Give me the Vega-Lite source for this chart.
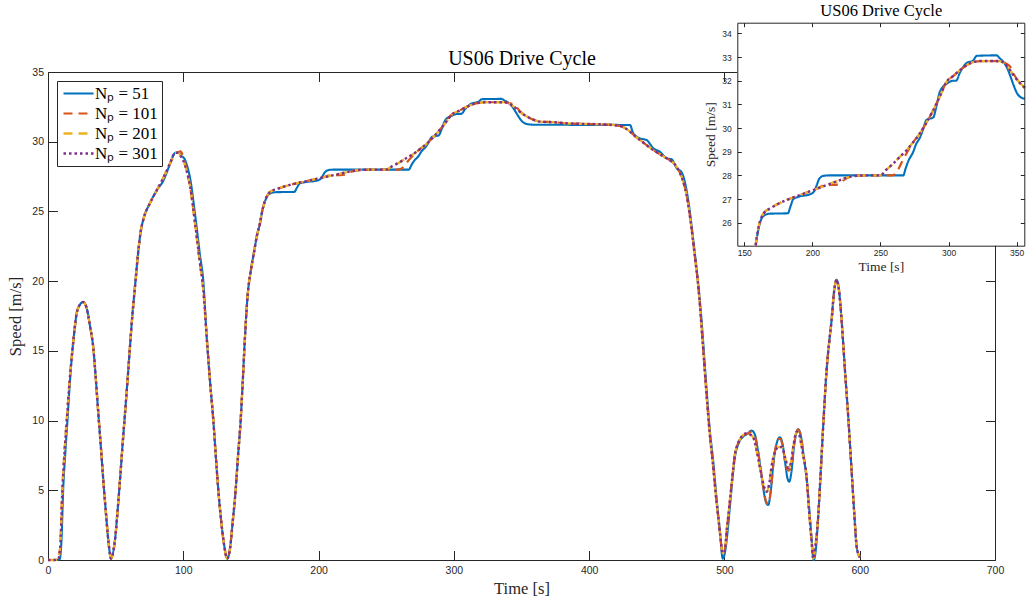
{
"$schema":"https://vega.github.io/schema/vega-lite/v6.json",
"width":947,"height":488,
"autosize":{"type":"none"},
"padding":{"left":48,"top":72,"right":33,"bottom":42},
"background":"white",
"config":{"view":{"stroke":null},"axis":{"domainColor":"#262626","tickColor":"#262626","labelColor":"#262626","labelFont":"Liberation Sans","labelFlush":false,"labelOverlap":false,"titleFont":"Liberation Serif","titleFontWeight":"normal","titleColor":"#262626","grid":false,"domainWidth":1,"tickWidth":1}},
"data":{"values":[
{"np":51,"t":0,"v":0},{"np":51,"t":5,"v":0},{"np":51,"t":8.6,"v":0.05},{"np":51,"t":10,"v":1.5},{"np":51,"t":11.2,"v":5},{"np":51,"t":12.8,"v":7.7},{"np":51,"t":14.5,"v":10.2},{"np":51,"t":16,"v":12.5},{"np":51,"t":18,"v":15},{"np":51,"t":19.6,"v":16.5},{"np":51,"t":21.2,"v":17.7},{"np":51,"t":23.5,"v":18.3},{"np":51,"t":26,"v":18.5},{"np":51,"t":28.5,"v":18.1},{"np":51,"t":31,"v":16.8},{"np":51,"t":33.5,"v":15.2},{"np":51,"t":35.5,"v":12.8},{"np":51,"t":37.2,"v":10.5},{"np":51,"t":39,"v":8.2},{"np":51,"t":40.9,"v":5.7},{"np":51,"t":42.8,"v":3.4},{"np":51,"t":44.6,"v":1.4},{"np":51,"t":46.6,"v":0.1},{"np":51,"t":48,"v":0.5},{"np":51,"t":49.5,"v":1.4},{"np":51,"t":51.4,"v":3.5},{"np":51,"t":53.2,"v":5.7},{"np":51,"t":55,"v":8.1},{"np":51,"t":56.9,"v":10.5},{"np":51,"t":58.8,"v":12.9},{"np":51,"t":60.6,"v":15.3},{"np":51,"t":62.4,"v":17.6},{"np":51,"t":64.3,"v":19.6},{"np":51,"t":66.8,"v":22.2},{"np":51,"t":68.6,"v":23.6},{"np":51,"t":70.4,"v":24.4},{"np":51,"t":75.4,"v":25.6},{"np":51,"t":80.3,"v":26.5},{"np":51,"t":85.2,"v":27.2},{"np":51,"t":90.2,"v":28.4},{"np":51,"t":93.9,"v":29.2},{"np":51,"t":96.3,"v":29.25},{"np":51,"t":98.5,"v":29.0},{"np":51,"t":101.3,"v":28.7},{"np":51,"t":103.3,"v":28.1},{"np":51,"t":105,"v":27.4},{"np":51,"t":108.7,"v":24.8},{"np":51,"t":112.3,"v":21.9},{"np":51,"t":114.8,"v":20.0},{"np":51,"t":117.3,"v":16},{"np":51,"t":119.7,"v":12.9},{"np":51,"t":122.2,"v":10},{"np":51,"t":124,"v":7.5},{"np":51,"t":125.9,"v":5},{"np":51,"t":128,"v":2.8},{"np":51,"t":130,"v":1.2},{"np":51,"t":132.5,"v":0.1},{"np":51,"t":134.5,"v":0.8},{"np":51,"t":136.6,"v":2.8},{"np":51,"t":138.7,"v":5},{"np":51,"t":140.5,"v":7.5},{"np":51,"t":142.4,"v":10},{"np":51,"t":143.9,"v":12.7},{"np":51,"t":145.5,"v":15.8},{"np":51,"t":147.5,"v":18.9},{"np":51,"t":150,"v":20.8},{"np":51,"t":152.5,"v":22.2},{"np":51,"t":154.5,"v":23.3},{"np":51,"t":156.7,"v":24.15},{"np":51,"t":158.4,"v":25.05},{"np":51,"t":160.5,"v":25.75},{"np":51,"t":162.5,"v":26.15},{"np":51,"t":165,"v":26.32},{"np":51,"t":168,"v":26.38},{"np":51,"t":182,"v":26.4},{"np":51,"t":184,"v":26.7},{"np":51,"t":186,"v":27.0},{"np":51,"t":190,"v":27.1},{"np":51,"t":198.2,"v":27.2},{"np":51,"t":201,"v":27.3},{"np":51,"t":203,"v":27.55},{"np":51,"t":205,"v":27.85},{"np":51,"t":208,"v":27.98},{"np":51,"t":212,"v":28.0},{"np":51,"t":266.8,"v":28.0},{"np":51,"t":268.5,"v":28.3},{"np":51,"t":270.4,"v":28.6},{"np":51,"t":274.1,"v":29.0},{"np":51,"t":276,"v":29.3},{"np":51,"t":279,"v":29.6},{"np":51,"t":281,"v":29.9},{"np":51,"t":283.9,"v":30.35},{"np":51,"t":288.8,"v":30.45},{"np":51,"t":291,"v":30.9},{"np":51,"t":293.7,"v":31.55},{"np":51,"t":298.6,"v":31.87},{"np":51,"t":303.5,"v":32.0},{"np":51,"t":305.5,"v":32.0},{"np":51,"t":308.4,"v":32.35},{"np":51,"t":313.3,"v":32.75},{"np":51,"t":318,"v":32.85},{"np":51,"t":320.7,"v":33.05},{"np":51,"t":335.3,"v":33.07},{"np":51,"t":337.5,"v":32.95},{"np":51,"t":340.2,"v":32.8},{"np":51,"t":342.5,"v":32.6},{"np":51,"t":345,"v":32.25},{"np":51,"t":347.5,"v":31.85},{"np":51,"t":350,"v":31.5},{"np":51,"t":353,"v":31.3},{"np":51,"t":356,"v":31.24},{"np":51,"t":358.7,"v":31.22},{"np":51,"t":430.2,"v":31.2},{"np":51,"t":432.6,"v":30.6},{"np":51,"t":437.6,"v":30.24},{"np":51,"t":442.5,"v":30.12},{"np":51,"t":447.4,"v":29.53},{"np":51,"t":452.3,"v":29.28},{"np":51,"t":457.3,"v":28.81},{"np":51,"t":461,"v":28.74},{"np":51,"t":464.7,"v":28.1},{"np":51,"t":468.4,"v":27.8},{"np":51,"t":471,"v":27.0},{"np":51,"t":474,"v":25.3},{"np":51,"t":477,"v":22.9},{"np":51,"t":480,"v":20.4},{"np":51,"t":483,"v":17.3},{"np":51,"t":486,"v":13.3},{"np":51,"t":489.2,"v":9.3},{"np":51,"t":491.7,"v":7.1},{"np":51,"t":494,"v":4.6},{"np":51,"t":496.5,"v":2.2},{"np":51,"t":498.8,"v":0.1},{"np":51,"t":500.5,"v":0.6},{"np":51,"t":502.5,"v":2.2},{"np":51,"t":504.1,"v":3.9},{"np":51,"t":506,"v":5.9},{"np":51,"t":507.8,"v":7.4},{"np":51,"t":510.2,"v":8.3},{"np":51,"t":513.9,"v":8.85},{"np":51,"t":517,"v":9.05},{"np":51,"t":520.1,"v":9.28},{"np":51,"t":522.5,"v":9.0},{"np":51,"t":524.5,"v":8.0},{"np":51,"t":526.2,"v":6.9},{"np":51,"t":528.5,"v":5.3},{"np":51,"t":530.5,"v":4.2},{"np":51,"t":532.4,"v":3.94},{"np":51,"t":534.2,"v":4.9},{"np":51,"t":536.5,"v":7.2},{"np":51,"t":539,"v":8.5},{"np":51,"t":541,"v":8.8},{"np":51,"t":543,"v":8.3},{"np":51,"t":545,"v":6.9},{"np":51,"t":546.5,"v":5.9},{"np":51,"t":547.9,"v":5.62},{"np":51,"t":549.5,"v":6.3},{"np":51,"t":551.5,"v":8.2},{"np":51,"t":554.6,"v":9.37},{"np":51,"t":556.5,"v":8.9},{"np":51,"t":558.5,"v":7.5},{"np":51,"t":561,"v":5.6},{"np":51,"t":563,"v":3.3},{"np":51,"t":564.7,"v":1.2},{"np":51,"t":566,"v":0.0},{"np":51,"t":567.8,"v":1.0},{"np":51,"t":569.3,"v":3.1},{"np":51,"t":571,"v":6.0},{"np":51,"t":573,"v":9.6},{"np":51,"t":575.5,"v":13.6},{"np":51,"t":577.4,"v":15.6},{"np":51,"t":579.2,"v":17.2},{"np":51,"t":581,"v":19.2},{"np":51,"t":582.9,"v":20.1},{"np":51,"t":584.5,"v":19.5},{"np":51,"t":586.6,"v":17.2},{"np":51,"t":589.1,"v":13.6},{"np":51,"t":591.5,"v":10.3},{"np":51,"t":594,"v":6.4},{"np":51,"t":596,"v":3.3},{"np":51,"t":597.7,"v":1.0},{"np":51,"t":600,"v":0.2},
{"np":101,"t":0,"v":0},{"np":101,"t":5,"v":0},{"np":101,"t":7.5,"v":0.05},{"np":101,"t":9,"v":0.9},{"np":101,"t":10.6,"v":5},{"np":101,"t":12.2,"v":7.7},{"np":101,"t":14,"v":10.2},{"np":101,"t":16,"v":12.9},{"np":101,"t":18,"v":15},{"np":101,"t":19.6,"v":16.5},{"np":101,"t":21.2,"v":17.7},{"np":101,"t":23.5,"v":18.3},{"np":101,"t":26,"v":18.5},{"np":101,"t":28.5,"v":18.1},{"np":101,"t":31,"v":16.8},{"np":101,"t":33.5,"v":15.2},{"np":101,"t":35.5,"v":12.8},{"np":101,"t":37.2,"v":10.5},{"np":101,"t":39,"v":8.2},{"np":101,"t":40.9,"v":5.7},{"np":101,"t":42.8,"v":3.4},{"np":101,"t":44.6,"v":1.4},{"np":101,"t":46.6,"v":0.1},{"np":101,"t":48,"v":0.5},{"np":101,"t":49.5,"v":1.4},{"np":101,"t":51.4,"v":3.5},{"np":101,"t":53.2,"v":5.7},{"np":101,"t":55,"v":8.1},{"np":101,"t":56.9,"v":10.5},{"np":101,"t":58.8,"v":12.9},{"np":101,"t":60.6,"v":15.3},{"np":101,"t":62.4,"v":17.6},{"np":101,"t":64.3,"v":19.6},{"np":101,"t":66.8,"v":22.2},{"np":101,"t":68.6,"v":23.6},{"np":101,"t":70.4,"v":24.4},{"np":101,"t":75.4,"v":25.6},{"np":101,"t":80.3,"v":26.5},{"np":101,"t":85.2,"v":27.4},{"np":101,"t":90.2,"v":28.45},{"np":101,"t":93.9,"v":29.1},{"np":101,"t":96.3,"v":29.25},{"np":101,"t":98,"v":29.3},{"np":101,"t":100,"v":28.9},{"np":101,"t":101.3,"v":28.5},{"np":101,"t":103.3,"v":27.6},{"np":101,"t":105,"v":26.8},{"np":101,"t":108.7,"v":24.15},{"np":101,"t":112.3,"v":21.3},{"np":101,"t":114.8,"v":19.4},{"np":101,"t":117.3,"v":16},{"np":101,"t":119.7,"v":12.9},{"np":101,"t":122.2,"v":10},{"np":101,"t":124,"v":7.5},{"np":101,"t":125.9,"v":5},{"np":101,"t":128,"v":2.8},{"np":101,"t":130,"v":1.2},{"np":101,"t":132.5,"v":0.1},{"np":101,"t":134.5,"v":0.8},{"np":101,"t":136.6,"v":2.8},{"np":101,"t":138.7,"v":5},{"np":101,"t":140.5,"v":7.5},{"np":101,"t":142.4,"v":10},{"np":101,"t":143.9,"v":12.7},{"np":101,"t":145.5,"v":15.8},{"np":101,"t":147.5,"v":18.9},{"np":101,"t":150,"v":20.8},{"np":101,"t":152.5,"v":22.2},{"np":101,"t":154.5,"v":23.3},{"np":101,"t":156.7,"v":24.15},{"np":101,"t":158.4,"v":25.05},{"np":101,"t":160.5,"v":25.8},{"np":101,"t":162.8,"v":26.25},{"np":101,"t":165,"v":26.45},{"np":101,"t":168.9,"v":26.6},{"np":101,"t":175,"v":26.8},{"np":101,"t":181.1,"v":26.96},{"np":101,"t":190.9,"v":27.17},{"np":101,"t":200.7,"v":27.38},{"np":101,"t":210.5,"v":27.6},{"np":101,"t":216,"v":27.6},{"np":101,"t":220.3,"v":27.65},{"np":101,"t":223,"v":27.8},{"np":101,"t":230.1,"v":27.97},{"np":101,"t":240,"v":28.0},{"np":101,"t":249.7,"v":28.0},{"np":101,"t":258,"v":28.0},{"np":101,"t":261,"v":28.05},{"np":101,"t":263.5,"v":28.3},{"np":101,"t":266,"v":28.6},{"np":101,"t":269.3,"v":28.95},{"np":101,"t":274,"v":29.4},{"np":101,"t":279,"v":29.78},{"np":101,"t":284,"v":30.25},{"np":101,"t":288.8,"v":30.76},{"np":101,"t":293.7,"v":31.35},{"np":101,"t":298.6,"v":31.96},{"np":101,"t":303.5,"v":32.2},{"np":101,"t":308.4,"v":32.45},{"np":101,"t":315.7,"v":32.73},{"np":101,"t":323.1,"v":32.83},{"np":101,"t":337.8,"v":32.83},{"np":101,"t":341.5,"v":32.75},{"np":101,"t":345.1,"v":32.6},{"np":101,"t":348.7,"v":32.2},{"np":101,"t":352.4,"v":31.9},{"np":101,"t":356,"v":31.7},{"np":101,"t":359.5,"v":31.55},{"np":101,"t":363.6,"v":31.44},{"np":101,"t":373.5,"v":31.4},{"np":101,"t":383.3,"v":31.32},{"np":101,"t":395,"v":31.28},{"np":101,"t":408,"v":31.25},{"np":101,"t":422.8,"v":31.13},{"np":101,"t":426.5,"v":30.98},{"np":101,"t":430.2,"v":30.72},{"np":101,"t":433.9,"v":30.4},{"np":101,"t":437.6,"v":30.12},{"np":101,"t":442.5,"v":29.75},{"np":101,"t":447.4,"v":29.4},{"np":101,"t":452.3,"v":29.1},{"np":101,"t":457.3,"v":28.81},{"np":101,"t":460,"v":28.65},{"np":101,"t":464.7,"v":28.2},{"np":101,"t":469,"v":27.3},{"np":101,"t":472,"v":26.2},{"np":101,"t":475,"v":24.3},{"np":101,"t":478,"v":21.9},{"np":101,"t":481,"v":19.3},{"np":101,"t":484,"v":15.5},{"np":101,"t":487,"v":11.6},{"np":101,"t":489.2,"v":9.0},{"np":101,"t":491.7,"v":6.7},{"np":101,"t":493.5,"v":4.8},{"np":101,"t":495.4,"v":3.1},{"np":101,"t":497,"v":1.7},{"np":101,"t":498.6,"v":0.5},{"np":101,"t":500,"v":0.6},{"np":101,"t":502,"v":2.4},{"np":101,"t":504.1,"v":4.3},{"np":101,"t":506,"v":6.1},{"np":101,"t":507.8,"v":7.6},{"np":101,"t":510.2,"v":8.4},{"np":101,"t":513.9,"v":8.95},{"np":101,"t":517,"v":9.05},{"np":101,"t":520.1,"v":9.2},{"np":101,"t":522.5,"v":8.9},{"np":101,"t":524.5,"v":8.0},{"np":101,"t":526.2,"v":6.95},{"np":101,"t":528.5,"v":5.4},{"np":101,"t":530.5,"v":4.3},{"np":101,"t":532.4,"v":4.0},{"np":101,"t":534.2,"v":4.9},{"np":101,"t":536.5,"v":7.2},{"np":101,"t":539,"v":8.5},{"np":101,"t":541,"v":8.7},{"np":101,"t":543,"v":8.2},{"np":101,"t":545,"v":7.0},{"np":101,"t":547.5,"v":6.4},{"np":101,"t":549.5,"v":6.8},{"np":101,"t":551.5,"v":8.3},{"np":101,"t":554.4,"v":9.35},{"np":101,"t":556.5,"v":8.9},{"np":101,"t":558.5,"v":7.5},{"np":101,"t":561,"v":5.6},{"np":101,"t":562.5,"v":3.6},{"np":101,"t":564.4,"v":1.4},{"np":101,"t":565.6,"v":0.1},{"np":101,"t":567.5,"v":1.2},{"np":101,"t":569.3,"v":3.1},{"np":101,"t":571,"v":6.0},{"np":101,"t":573,"v":9.6},{"np":101,"t":575.5,"v":13.6},{"np":101,"t":577.4,"v":15.6},{"np":101,"t":579.2,"v":17.2},{"np":101,"t":581,"v":19.2},{"np":101,"t":582.9,"v":20.1},{"np":101,"t":584.5,"v":19.5},{"np":101,"t":586.6,"v":17.2},{"np":101,"t":589.1,"v":13.6},{"np":101,"t":591.5,"v":10.3},{"np":101,"t":594,"v":6.4},{"np":101,"t":596,"v":3.3},{"np":101,"t":597.7,"v":1.0},{"np":101,"t":600,"v":0.2},
{"np":201,"t":0,"v":0},{"np":201,"t":5,"v":0},{"np":201,"t":7.5,"v":0.05},{"np":201,"t":9,"v":0.9},{"np":201,"t":10.6,"v":5},{"np":201,"t":12.2,"v":7.7},{"np":201,"t":14,"v":10.2},{"np":201,"t":16,"v":12.9},{"np":201,"t":18,"v":15},{"np":201,"t":19.6,"v":16.5},{"np":201,"t":21.2,"v":17.7},{"np":201,"t":23.5,"v":18.3},{"np":201,"t":26,"v":18.5},{"np":201,"t":28.5,"v":18.1},{"np":201,"t":31,"v":16.8},{"np":201,"t":33.5,"v":15.2},{"np":201,"t":35.5,"v":12.8},{"np":201,"t":37.2,"v":10.5},{"np":201,"t":39,"v":8.2},{"np":201,"t":40.9,"v":5.7},{"np":201,"t":42.8,"v":3.4},{"np":201,"t":44.6,"v":1.4},{"np":201,"t":46.6,"v":0.1},{"np":201,"t":48,"v":0.5},{"np":201,"t":49.5,"v":1.4},{"np":201,"t":51.4,"v":3.5},{"np":201,"t":53.2,"v":5.7},{"np":201,"t":55,"v":8.1},{"np":201,"t":56.9,"v":10.5},{"np":201,"t":58.8,"v":12.9},{"np":201,"t":60.6,"v":15.3},{"np":201,"t":62.4,"v":17.6},{"np":201,"t":64.3,"v":19.6},{"np":201,"t":66.8,"v":22.2},{"np":201,"t":68.6,"v":23.6},{"np":201,"t":70.4,"v":24.4},{"np":201,"t":75.4,"v":25.6},{"np":201,"t":80.3,"v":26.5},{"np":201,"t":85.2,"v":27.4},{"np":201,"t":90.2,"v":28.45},{"np":201,"t":93.9,"v":29.2},{"np":201,"t":96.3,"v":29.2},{"np":201,"t":98.5,"v":28.9},{"np":201,"t":101.3,"v":28.3},{"np":201,"t":103.3,"v":27.6},{"np":201,"t":105,"v":26.8},{"np":201,"t":108.7,"v":24.15},{"np":201,"t":112.3,"v":21.3},{"np":201,"t":114.8,"v":19.4},{"np":201,"t":117.3,"v":16},{"np":201,"t":119.7,"v":12.9},{"np":201,"t":122.2,"v":10},{"np":201,"t":124,"v":7.5},{"np":201,"t":125.9,"v":5},{"np":201,"t":128,"v":2.8},{"np":201,"t":130,"v":1.2},{"np":201,"t":132.5,"v":0.1},{"np":201,"t":134.5,"v":0.8},{"np":201,"t":136.6,"v":2.8},{"np":201,"t":138.7,"v":5},{"np":201,"t":140.5,"v":7.5},{"np":201,"t":142.4,"v":10},{"np":201,"t":143.9,"v":12.7},{"np":201,"t":145.5,"v":15.8},{"np":201,"t":147.5,"v":18.9},{"np":201,"t":150,"v":20.8},{"np":201,"t":152.5,"v":22.2},{"np":201,"t":154.5,"v":23.3},{"np":201,"t":156.7,"v":24.15},{"np":201,"t":158.4,"v":25.05},{"np":201,"t":160.5,"v":25.8},{"np":201,"t":162.8,"v":26.25},{"np":201,"t":165,"v":26.45},{"np":201,"t":168.9,"v":26.6},{"np":201,"t":175,"v":26.8},{"np":201,"t":181.1,"v":26.96},{"np":201,"t":190.9,"v":27.17},{"np":201,"t":200.7,"v":27.38},{"np":201,"t":210.5,"v":27.59},{"np":201,"t":220.3,"v":27.8},{"np":201,"t":230.1,"v":27.97},{"np":201,"t":240,"v":28.0},{"np":201,"t":249.7,"v":28.0},{"np":201,"t":254.5,"v":28.25},{"np":201,"t":259.4,"v":28.5},{"np":201,"t":264.5,"v":28.8},{"np":201,"t":269.3,"v":29.07},{"np":201,"t":274,"v":29.4},{"np":201,"t":279,"v":29.78},{"np":201,"t":284,"v":30.25},{"np":201,"t":288.8,"v":30.76},{"np":201,"t":293.7,"v":31.35},{"np":201,"t":298.6,"v":31.96},{"np":201,"t":303.5,"v":32.2},{"np":201,"t":308.4,"v":32.45},{"np":201,"t":315.7,"v":32.73},{"np":201,"t":323.1,"v":32.83},{"np":201,"t":337.8,"v":32.83},{"np":201,"t":341.5,"v":32.7},{"np":201,"t":345.1,"v":32.45},{"np":201,"t":348.7,"v":32.15},{"np":201,"t":352.4,"v":31.9},{"np":201,"t":356,"v":31.7},{"np":201,"t":359.5,"v":31.55},{"np":201,"t":363.6,"v":31.44},{"np":201,"t":373.5,"v":31.4},{"np":201,"t":383.3,"v":31.32},{"np":201,"t":395,"v":31.28},{"np":201,"t":408,"v":31.25},{"np":201,"t":422.8,"v":31.13},{"np":201,"t":426.5,"v":30.98},{"np":201,"t":430.2,"v":30.72},{"np":201,"t":433.9,"v":30.4},{"np":201,"t":437.6,"v":30.12},{"np":201,"t":442.5,"v":29.75},{"np":201,"t":447.4,"v":29.4},{"np":201,"t":452.3,"v":29.1},{"np":201,"t":457.3,"v":28.81},{"np":201,"t":460,"v":28.65},{"np":201,"t":464.7,"v":28.2},{"np":201,"t":469,"v":27.3},{"np":201,"t":472,"v":26.2},{"np":201,"t":475,"v":24.3},{"np":201,"t":478,"v":21.9},{"np":201,"t":481,"v":19.3},{"np":201,"t":484,"v":15.5},{"np":201,"t":487,"v":11.6},{"np":201,"t":489.2,"v":9.0},{"np":201,"t":491.7,"v":6.7},{"np":201,"t":493.5,"v":4.8},{"np":201,"t":495.4,"v":3.1},{"np":201,"t":497,"v":1.7},{"np":201,"t":498.6,"v":0.5},{"np":201,"t":500,"v":0.6},{"np":201,"t":502,"v":2.4},{"np":201,"t":504.1,"v":4.3},{"np":201,"t":506,"v":6.1},{"np":201,"t":507.8,"v":7.6},{"np":201,"t":510.2,"v":8.4},{"np":201,"t":513.9,"v":8.97},{"np":201,"t":516.4,"v":9.09},{"np":201,"t":519,"v":9.0},{"np":201,"t":521.3,"v":8.8},{"np":201,"t":523.5,"v":8.0},{"np":201,"t":525.5,"v":7.0},{"np":201,"t":527.5,"v":6.0},{"np":201,"t":529.5,"v":5.2},{"np":201,"t":531.2,"v":4.9},{"np":201,"t":533,"v":5.4},{"np":201,"t":535,"v":6.8},{"np":201,"t":537.5,"v":7.8},{"np":201,"t":540,"v":8.1},{"np":201,"t":542.5,"v":8.1},{"np":201,"t":545,"v":7.3},{"np":201,"t":547.2,"v":6.6},{"np":201,"t":549,"v":6.9},{"np":201,"t":551,"v":8.2},{"np":201,"t":553.4,"v":9.2},{"np":201,"t":555.5,"v":8.9},{"np":201,"t":558,"v":7.6},{"np":201,"t":560.7,"v":6.0},{"np":201,"t":562.5,"v":3.6},{"np":201,"t":564.4,"v":1.4},{"np":201,"t":565.6,"v":0.1},{"np":201,"t":567.5,"v":1.2},{"np":201,"t":569.3,"v":3.1},{"np":201,"t":571,"v":6.0},{"np":201,"t":573,"v":9.6},{"np":201,"t":575.5,"v":13.6},{"np":201,"t":577.4,"v":15.6},{"np":201,"t":579.2,"v":17.2},{"np":201,"t":581,"v":19.2},{"np":201,"t":582.9,"v":20.1},{"np":201,"t":584.5,"v":19.5},{"np":201,"t":586.6,"v":17.2},{"np":201,"t":589.1,"v":13.6},{"np":201,"t":591.5,"v":10.3},{"np":201,"t":594,"v":6.4},{"np":201,"t":596,"v":3.3},{"np":201,"t":597.7,"v":1.0},{"np":201,"t":600,"v":0.2},
{"np":301,"t":0,"v":0},{"np":301,"t":5,"v":0},{"np":301,"t":7.5,"v":0.05},{"np":301,"t":9,"v":0.9},{"np":301,"t":10.6,"v":5},{"np":301,"t":12.2,"v":7.7},{"np":301,"t":14,"v":10.2},{"np":301,"t":16,"v":12.9},{"np":301,"t":18,"v":15},{"np":301,"t":19.6,"v":16.5},{"np":301,"t":21.2,"v":17.7},{"np":301,"t":23.5,"v":18.3},{"np":301,"t":26,"v":18.5},{"np":301,"t":28.5,"v":18.1},{"np":301,"t":31,"v":16.8},{"np":301,"t":33.5,"v":15.2},{"np":301,"t":35.5,"v":12.8},{"np":301,"t":37.2,"v":10.5},{"np":301,"t":39,"v":8.2},{"np":301,"t":40.9,"v":5.7},{"np":301,"t":42.8,"v":3.4},{"np":301,"t":44.6,"v":1.4},{"np":301,"t":46.6,"v":0.1},{"np":301,"t":48,"v":0.5},{"np":301,"t":49.5,"v":1.4},{"np":301,"t":51.4,"v":3.5},{"np":301,"t":53.2,"v":5.7},{"np":301,"t":55,"v":8.1},{"np":301,"t":56.9,"v":10.5},{"np":301,"t":58.8,"v":12.9},{"np":301,"t":60.6,"v":15.3},{"np":301,"t":62.4,"v":17.6},{"np":301,"t":64.3,"v":19.6},{"np":301,"t":66.8,"v":22.2},{"np":301,"t":68.6,"v":23.6},{"np":301,"t":70.4,"v":24.4},{"np":301,"t":75.4,"v":25.6},{"np":301,"t":80.3,"v":26.5},{"np":301,"t":85.2,"v":27.4},{"np":301,"t":90.2,"v":28.45},{"np":301,"t":93.9,"v":29.2},{"np":301,"t":96.3,"v":29.2},{"np":301,"t":98.5,"v":28.9},{"np":301,"t":101.3,"v":28.3},{"np":301,"t":103.3,"v":27.6},{"np":301,"t":105,"v":26.8},{"np":301,"t":108.7,"v":24.15},{"np":301,"t":112.3,"v":21.3},{"np":301,"t":114.8,"v":19.4},{"np":301,"t":117.3,"v":16},{"np":301,"t":119.7,"v":12.9},{"np":301,"t":122.2,"v":10},{"np":301,"t":124,"v":7.5},{"np":301,"t":125.9,"v":5},{"np":301,"t":128,"v":2.8},{"np":301,"t":130,"v":1.2},{"np":301,"t":132.5,"v":0.1},{"np":301,"t":134.5,"v":0.8},{"np":301,"t":136.6,"v":2.8},{"np":301,"t":138.7,"v":5},{"np":301,"t":140.5,"v":7.5},{"np":301,"t":142.4,"v":10},{"np":301,"t":143.9,"v":12.7},{"np":301,"t":145.5,"v":15.8},{"np":301,"t":147.5,"v":18.9},{"np":301,"t":150,"v":20.8},{"np":301,"t":152.5,"v":22.2},{"np":301,"t":154.5,"v":23.3},{"np":301,"t":156.7,"v":24.15},{"np":301,"t":158.4,"v":25.05},{"np":301,"t":160.5,"v":25.8},{"np":301,"t":162.8,"v":26.25},{"np":301,"t":165,"v":26.45},{"np":301,"t":168.9,"v":26.6},{"np":301,"t":175,"v":26.8},{"np":301,"t":181.1,"v":26.96},{"np":301,"t":190.9,"v":27.17},{"np":301,"t":200.7,"v":27.38},{"np":301,"t":210.5,"v":27.59},{"np":301,"t":220.3,"v":27.8},{"np":301,"t":230.1,"v":27.97},{"np":301,"t":240,"v":28.0},{"np":301,"t":249.7,"v":28.0},{"np":301,"t":254.5,"v":28.25},{"np":301,"t":259.4,"v":28.5},{"np":301,"t":264.5,"v":28.8},{"np":301,"t":269.3,"v":29.07},{"np":301,"t":274,"v":29.4},{"np":301,"t":279,"v":29.78},{"np":301,"t":284,"v":30.25},{"np":301,"t":288.8,"v":30.76},{"np":301,"t":293.7,"v":31.35},{"np":301,"t":298.6,"v":31.96},{"np":301,"t":303.5,"v":32.2},{"np":301,"t":308.4,"v":32.45},{"np":301,"t":315.7,"v":32.73},{"np":301,"t":323.1,"v":32.83},{"np":301,"t":337.8,"v":32.83},{"np":301,"t":341.5,"v":32.7},{"np":301,"t":345.1,"v":32.45},{"np":301,"t":348.7,"v":32.15},{"np":301,"t":352.4,"v":31.9},{"np":301,"t":356,"v":31.7},{"np":301,"t":359.5,"v":31.55},{"np":301,"t":363.6,"v":31.44},{"np":301,"t":373.5,"v":31.4},{"np":301,"t":383.3,"v":31.32},{"np":301,"t":395,"v":31.28},{"np":301,"t":408,"v":31.25},{"np":301,"t":422.8,"v":31.13},{"np":301,"t":426.5,"v":30.98},{"np":301,"t":430.2,"v":30.72},{"np":301,"t":433.9,"v":30.4},{"np":301,"t":437.6,"v":30.12},{"np":301,"t":442.5,"v":29.75},{"np":301,"t":447.4,"v":29.4},{"np":301,"t":452.3,"v":29.1},{"np":301,"t":457.3,"v":28.81},{"np":301,"t":460,"v":28.65},{"np":301,"t":464.7,"v":28.2},{"np":301,"t":469,"v":27.3},{"np":301,"t":472,"v":26.2},{"np":301,"t":475,"v":24.3},{"np":301,"t":478,"v":21.9},{"np":301,"t":481,"v":19.3},{"np":301,"t":484,"v":15.5},{"np":301,"t":487,"v":11.6},{"np":301,"t":489.2,"v":9.0},{"np":301,"t":491.7,"v":6.7},{"np":301,"t":493.5,"v":4.8},{"np":301,"t":495.4,"v":3.1},{"np":301,"t":497,"v":1.7},{"np":301,"t":498.6,"v":0.5},{"np":301,"t":500,"v":0.6},{"np":301,"t":502,"v":2.4},{"np":301,"t":504.1,"v":4.3},{"np":301,"t":506,"v":6.1},{"np":301,"t":507.8,"v":7.6},{"np":301,"t":510.2,"v":8.4},{"np":301,"t":513.9,"v":8.97},{"np":301,"t":516.4,"v":9.09},{"np":301,"t":519,"v":9.0},{"np":301,"t":521.3,"v":8.8},{"np":301,"t":523.5,"v":8.0},{"np":301,"t":525.5,"v":7.0},{"np":301,"t":527.5,"v":6.0},{"np":301,"t":529.5,"v":5.2},{"np":301,"t":531.2,"v":4.9},{"np":301,"t":533,"v":5.4},{"np":301,"t":535,"v":6.8},{"np":301,"t":537.5,"v":7.8},{"np":301,"t":540,"v":8.1},{"np":301,"t":542.5,"v":8.1},{"np":301,"t":545,"v":7.3},{"np":301,"t":547.2,"v":6.6},{"np":301,"t":549,"v":6.9},{"np":301,"t":551,"v":8.2},{"np":301,"t":553.4,"v":9.2},{"np":301,"t":555.5,"v":8.9},{"np":301,"t":558,"v":7.6},{"np":301,"t":560.7,"v":6.0},{"np":301,"t":562.5,"v":3.6},{"np":301,"t":564.4,"v":1.4},{"np":301,"t":565.6,"v":0.1},{"np":301,"t":567.5,"v":1.2},{"np":301,"t":569.3,"v":3.1},{"np":301,"t":571,"v":6.0},{"np":301,"t":573,"v":9.6},{"np":301,"t":575.5,"v":13.6},{"np":301,"t":577.4,"v":15.6},{"np":301,"t":579.2,"v":17.2},{"np":301,"t":581,"v":19.2},{"np":301,"t":582.9,"v":20.1},{"np":301,"t":584.5,"v":19.5},{"np":301,"t":586.6,"v":17.2},{"np":301,"t":589.1,"v":13.6},{"np":301,"t":591.5,"v":10.3},{"np":301,"t":594,"v":6.4},{"np":301,"t":596,"v":3.3},{"np":301,"t":597.7,"v":1.0},{"np":301,"t":600,"v":0.2}
]},
"layer":[
{"mark":{"type":"line","interpolate":"monotone"},
 "encoding":{
  "x":{"field":"t","type":"quantitative","scale":{"domain":[0,700],"nice":false,"zero":false},
   "axis":{"orient":"bottom","values":[0,100,200,300,400,500,600,700],"tickSize":-9.5,"labelPadding":15,"labelFontSize":10.5,"title":"Time [s]","titleFontSize":16.5,"titlePadding":4,"zindex":0}},
  "y":{"field":"v","type":"quantitative","scale":{"domain":[0,35],"nice":false,"zero":false},
   "axis":{"orient":"left","values":[0,5,10,15,20,25,30,35],"tickSize":-9.5,"labelPadding":14,"labelFontSize":10.5,"title":"Speed [m/s]","titleFontSize":16.5,"titlePadding":8,"zindex":0}},
  "color":{"field":"np","type":"nominal","scale":{"domain":[51,101,201,301],"range":["#0072BD","#D95319","#EDB120","#7E2F8E"]},
   "legend":{"orient":"top-left","offset":9,"title":null,"labelExpr":"'Nₚ = ' + datum.label","labelFont":"Liberation Serif","labelFontSize":17,"labelColor":"#000000","symbolType":"M-3,0H3","symbolSize":100,"symbolOffset":9,"symbolStrokeWidth":2.2,"symbolFillColor":"transparent","fillColor":"#ffffff","strokeColor":"#262626","padding":4,"rowPadding":2,"labelOffset":8}},
  "strokeDash":{"field":"np","type":"nominal","scale":{"domain":[51,101,201,301],"range":[[1,0],[9,6],[9,6],[2.5,3]]},
   "legend":{"orient":"top-left","offset":9,"title":null,"labelExpr":"'Nₚ = ' + datum.label","labelFont":"Liberation Serif","labelFontSize":17,"labelColor":"#000000","symbolType":"M-3,0H3","symbolSize":100,"symbolOffset":9,"symbolStrokeWidth":2.2,"symbolFillColor":"transparent","fillColor":"#ffffff","strokeColor":"#262626","padding":4,"rowPadding":2,"labelOffset":8}},
  "strokeWidth":{"field":"np","type":"ordinal","scale":{"domain":[51,101,201,301],"range":[2.1,2.4,2.4,2.7]},"legend":null}
 }},
{"data":{"values":[{}]},"mark":{"type":"point","opacity":0},
 "encoding":{
  "x":{"datum":0,"type":"quantitative","scale":{"domain":[0,700],"nice":false,"zero":false},
   "axis":{"orient":"top","values":[0,100,200,300,400,500,600,700],"tickSize":-9.5,"labels":false,"title":"US06 Drive Cycle","titleFontSize":20,"titleColor":"#000000","titlePadding":3,"zindex":0}},
  "y":{"datum":0,"type":"quantitative","scale":{"domain":[0,35],"nice":false,"zero":false},
   "axis":{"orient":"right","values":[0,5,10,15,20,25,30,35],"tickSize":-9.5,"labels":false,"title":null,"zindex":0}}
 }},
{"layer":[
  {"data":{"values":[{}]},"mark":{"type":"rect","fill":"#ffffff"},
   "encoding":{"x":{"datum":144.9,"type":"quantitative"},"x2":{"datum":355.6},"y":{"datum":25.03,"type":"quantitative"},"y2":{"datum":34.45}}},
  {"transform":[{"filter":"datum.t >= 145 && datum.t <= 356.5 && datum.v >= 25"}],
   "mark":{"type":"line","interpolate":"monotone"},
   "encoding":{
    "x":{"field":"t","type":"quantitative","scale":{"domain":[144.9,355.6],"range":[689.3,976.3],"nice":false,"zero":false},
     "axis":{"orient":"bottom","offset":-314.3,"values":[150,200,250,300,350],"tickSize":-4,"labelPadding":7,"labelFontSize":8.5,"title":"Time [s]","titleFontSize":13.5,"titlePadding":2,"zindex":1}},
    "y":{"field":"v","type":"quantitative","scale":{"domain":[25.03,34.45],"range":[173.7,-49.3],"nice":false,"zero":false},
     "axis":{"orient":"left","offset":-689.3,"values":[26,27,28,29,30,31,32,33,34],"tickSize":-4,"labelPadding":10,"labelFontSize":8.5,"title":"Speed [m/s]","titleFontSize":13.5,"titlePadding":4,"zindex":1}},
    "color":{"field":"np","type":"nominal"},
    "strokeDash":{"field":"np","type":"nominal"},
    "strokeWidth":{"field":"np","type":"ordinal","legend":null}
   }}
 ]},
{"data":{"values":[{}]},"mark":{"type":"point","opacity":0},
 "encoding":{
  "x":{"datum":200,"type":"quantitative","scale":{"domain":[144.9,355.6],"range":[689.3,976.3],"nice":false,"zero":false},
   "axis":{"orient":"top","offset":49.3,"values":[150,200,250,300,350],"tickSize":-4,"labels":false,"title":"US06 Drive Cycle","titleFontSize":16.5,"titleColor":"#000000","titlePadding":4,"zindex":1}},
  "y":{"datum":30,"type":"quantitative","scale":{"domain":[25.03,34.45],"range":[173.7,-49.3],"nice":false,"zero":false},
   "axis":{"orient":"right","offset":29.3,"values":[26,27,28,29,30,31,32,33,34],"tickSize":-4,"labels":false,"title":null,"zindex":1}}
 }}
],
"resolve":{"scale":{"x":"independent","y":"independent"}}
}
